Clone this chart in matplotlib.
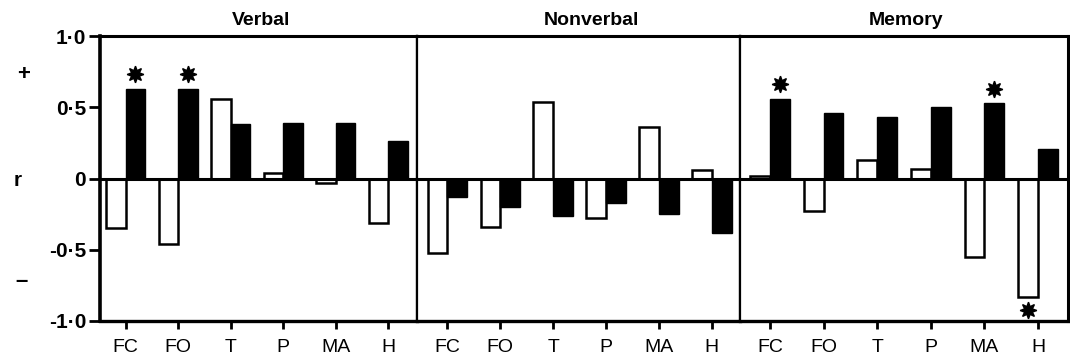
import matplotlib
matplotlib.use('Agg')
import matplotlib.pyplot as plt
import numpy as np

plt.rcParams['font.family'] = ['Liberation Sans', 'DejaVu Sans']

regions = ['FC', 'FO', 'T', 'P', 'MA', 'H']
panels = ['Verbal', 'Nonverbal', 'Memory']

# correlation r, open bars and filled bars
verbal_open = [-0.35, -0.46, 0.56, 0.04, -0.03, -0.31]
verbal_filled = [0.63, 0.63, 0.38, 0.39, 0.39, 0.26]
nonverbal_open = [-0.52, -0.34, 0.54, -0.28, 0.36, 0.06]
nonverbal_filled = [-0.13, -0.20, -0.26, -0.17, -0.25, -0.38]
memory_open = [0.02, -0.23, 0.13, 0.07, -0.55, -0.83]
memory_filled = [0.56, 0.46, 0.43, 0.50, 0.53, 0.21]

# significant bars: (panel, region, 'open' or 'filled')
significant = [('Verbal', 'FC', 'filled'), ('Verbal', 'FO', 'filled'),
               ('Memory', 'FC', 'filled'), ('Memory', 'MA', 'filled'),
               ('Memory', 'H', 'open')]

values = {
    'Verbal': (verbal_open, verbal_filled),
    'Nonverbal': (nonverbal_open, nonverbal_filled),
    'Memory': (memory_open, memory_filled),
}

fig = plt.figure(figsize=(10.7, 3.6), dpi=100)

# axes rectangles in figure fraction and x-limits for each panel
bottom, height = 39 / 360, 285 / 360
rects = {'Verbal': (100 / 1070, 317 / 1070),
         'Nonverbal': (417 / 1070, 323 / 1070),
         'Memory': (740 / 1070, 328 / 1070)}
xlims = {'Verbal': (-0.49, 5.55),
         'Nonverbal': (-0.57, 5.53),
         'Memory': (-0.56, 5.56)}
title_x = {'Verbal': 0.508, 'Nonverbal': 0.54, 'Memory': 0.506}
width = 0.37

x = np.arange(len(regions))
for k, name in enumerate(panels):
    left, w = rects[name]
    ax = fig.add_axes([left, bottom, w, height])
    op, fi = values[name]
    ax.bar(x - width / 2, op, width, color='white', edgecolor='black',
           linewidth=1.8, zorder=2)
    ax.bar(x + width / 2, fi, width, color='black', edgecolor='black',
           linewidth=1.0, zorder=2)
    ax.axhline(0, color='black', lw=2.2, zorder=3)

    for pan, reg, ser in significant:
        if pan != name:
            continue
        i = regions.index(reg)
        if ser == 'filled':
            xs, v = i + width / 2, fi[i]
        else:
            xs, v = i - width / 2, op[i]
        ys = v + 0.1 if v > 0 else v - 0.09
        ax.plot(xs, ys, marker=(8, 1, 0), color='black', markersize=12,
                zorder=4)

    ax.set_xlim(*xlims[name])
    ax.set_ylim(-1.0, 1.0)
    ax.set_xticks(x)
    ax.set_xticklabels(regions, fontsize=14)
    ax.tick_params(axis='x', direction='out', length=6, width=2, pad=7)
    for s in ax.spines.values():
        s.set_linewidth(1.6)
    ax.spines['top'].set_linewidth(2.2)
    ax.spines['bottom'].set_linewidth(2.4)
    if k == 0:
        ax.spines['left'].set_linewidth(2.6)
        ax.set_yticks([1.0, 0.5, 0, -0.5, -1.0])
        ax.set_yticklabels(['1·0', '0·5', '0', '-0·5', '-1·0'],
                           fontsize=15, fontweight='bold')
        ax.tick_params(axis='y', direction='out', length=8, width=2, pad=2)
    else:
        ax.set_yticks([])
    if k == 2:
        ax.spines['right'].set_linewidth(2.2)
    ax.set_title(name, fontsize=14, fontweight='bold', pad=8, x=title_x[name])

fig.text(24 / 1070, 1 - 75 / 360, '+', fontsize=16, fontweight='bold',
         ha='center', va='center')
fig.text(18 / 1070, 1 - 181 / 360, 'r', fontsize=15, fontweight='bold',
         ha='center', va='center')
fig.text(22 / 1070, 1 - 282 / 360, '–', fontsize=16, fontweight='bold',
         ha='center', va='center')

fig.savefig('out.png', dpi=100)
